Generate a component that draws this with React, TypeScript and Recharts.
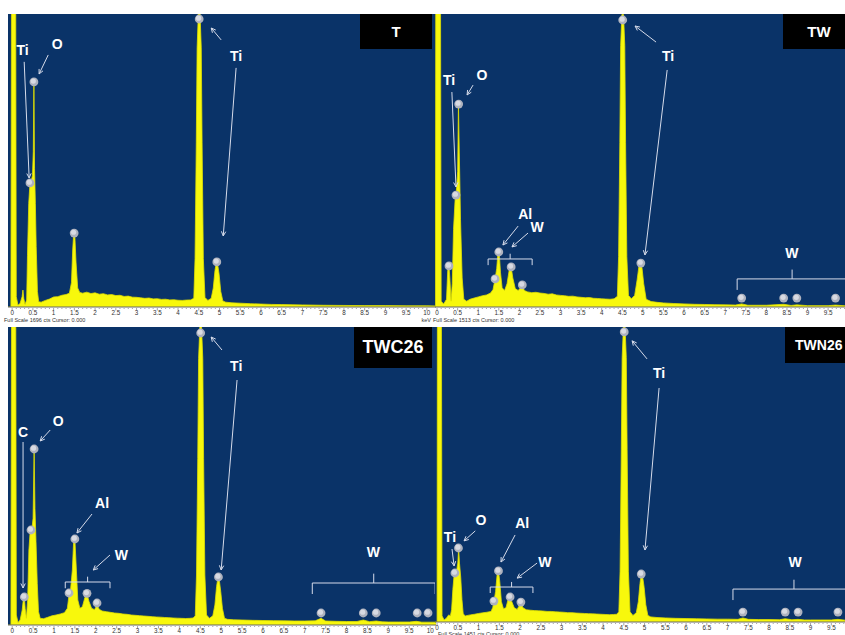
import React from 'react';
import { ComposedChart, Area, Scatter, XAxis, YAxis, CartesianGrid, ReferenceLine, ReferenceDot } from 'recharts';

type Pt = [number, number];
type Lbl = [number, number, string];
type Seg = [number, number, number, number];
type Brk = [number, number, number];

// EDS spectra, [energy keV, counts]
const tSpectrum: Pt[] = [
  [-0.1, 0], [-0.03, 0], [-0.01, 2500], [0.08, 2500], [0.1, 60], [0.14, 10], [0.19, 20], [0.24, 60], [0.26, 98], [0.28, 50],
  [0.31, 15], [0.35, 40], [0.37, 300], [0.4, 600], [0.43, 718], [0.46, 730], [0.49, 760], [0.51, 900], [0.525, 1303], [0.54, 800],
  [0.56, 600], [0.58, 350], [0.61, 90], [0.64, 30], [0.7, 28], [0.8, 38], [0.9, 46], [1.0, 58], [1.1, 60], [1.2, 68],
  [1.3, 72], [1.38, 80], [1.43, 140], [1.46, 330], [1.485, 428], [1.51, 420], [1.54, 260], [1.58, 110], [1.63, 84], [1.7, 80],
  [1.8, 86], [1.9, 78], [2.0, 82], [2.1, 74], [2.2, 77], [2.3, 70], [2.4, 72], [2.5, 66], [2.6, 68], [2.7, 61],
  [2.8, 63], [2.9, 57], [3.0, 56], [3.1, 53], [3.2, 50], [3.3, 52], [3.4, 47], [3.5, 48], [3.6, 44], [3.7, 45],
  [3.8, 41], [3.9, 42], [4.0, 39], [4.1, 38], [4.2, 40], [4.3, 41], [4.38, 50], [4.41, 280], [4.44, 950], [4.46, 1500],
  [4.49, 1700], [4.53, 1700], [4.56, 1500], [4.58, 950], [4.61, 280], [4.65, 55], [4.72, 38], [4.8, 50], [4.85, 110], [4.89, 210],
  [4.925, 262], [4.95, 255], [4.99, 190], [5.03, 90], [5.08, 35], [5.15, 28], [5.3, 24], [5.5, 22], [5.75, 19], [6.0, 17],
  [6.25, 15], [6.5, 14], [6.75, 13], [7.0, 12], [7.5, 10], [8.0, 9], [8.5, 8], [9.0, 8], [9.5, 7], [10.0, 7], [10.22, 6],
];

const twSpectrum: Pt[] = [
  [-0.05, 0], [-0.04, 0], [-0.03, 2000], [0.08, 2000], [0.1, 30], [0.16, 15], [0.23, 40], [0.26, 190], [0.29, 212], [0.31, 150],
  [0.34, 30], [0.37, 120], [0.4, 400], [0.44, 560], [0.47, 600], [0.5, 700], [0.52, 1048], [0.54, 800], [0.57, 450], [0.61, 150],
  [0.65, 40], [0.72, 30], [0.8, 40], [0.9, 46], [1.0, 52], [1.1, 58], [1.2, 62], [1.3, 72], [1.36, 90], [1.41, 145],
  [1.45, 200], [1.48, 284], [1.51, 284], [1.54, 180], [1.58, 100], [1.64, 85], [1.7, 120], [1.76, 200], [1.8, 207], [1.84, 150],
  [1.9, 95], [1.97, 85], [2.03, 100], [2.07, 112], [2.12, 85], [2.2, 78], [2.3, 74], [2.4, 76], [2.5, 72], [2.6, 70],
  [2.7, 66], [2.8, 68], [2.9, 62], [3.0, 60], [3.1, 58], [3.2, 55], [3.3, 56], [3.4, 52], [3.5, 50], [3.6, 48],
  [3.7, 49], [3.8, 45], [3.9, 44], [4.0, 42], [4.1, 41], [4.2, 40], [4.3, 42], [4.38, 55], [4.41, 260], [4.44, 850],
  [4.46, 1350], [4.49, 1510], [4.53, 1510], [4.56, 1350], [4.58, 850], [4.61, 260], [4.65, 60], [4.72, 42], [4.8, 60], [4.86, 140],
  [4.91, 220], [4.95, 227], [4.98, 200], [5.02, 120], [5.08, 40], [5.2, 28], [5.35, 24], [5.5, 21], [5.75, 18], [6.0, 16],
  [6.25, 14], [6.5, 13], [6.75, 12], [7.0, 11], [7.25, 10], [7.4, 16], [7.55, 9], [8.0, 9], [8.42, 14], [8.6, 8],
  [8.74, 11], [9.0, 7], [9.5, 7], [9.68, 10], [9.91, 6],
];

const twc26Spectrum: Pt[] = [
  [-0.1, 0], [-0.03, 0], [-0.01, 2600], [0.08, 2600], [0.1, 60], [0.14, 15], [0.19, 30], [0.24, 90], [0.27, 160], [0.29, 168],
  [0.31, 100], [0.34, 40], [0.37, 150], [0.4, 450], [0.43, 560], [0.47, 570], [0.5, 640], [0.525, 1056], [0.545, 700], [0.57, 500],
  [0.6, 250], [0.63, 80], [0.67, 40], [0.75, 38], [0.85, 46], [0.95, 55], [1.05, 60], [1.15, 66], [1.25, 74], [1.32, 100],
  [1.36, 180], [1.4, 220], [1.44, 330], [1.47, 500], [1.5, 516], [1.53, 360], [1.57, 150], [1.62, 100], [1.68, 110], [1.74, 165],
  [1.79, 185], [1.84, 140], [1.9, 100], [1.97, 92], [2.03, 120], [2.08, 95], [2.15, 84], [2.25, 80], [2.35, 76], [2.45, 72],
  [2.55, 70], [2.65, 66], [2.75, 64], [2.85, 60], [2.95, 58], [3.05, 56], [3.15, 54], [3.25, 52], [3.35, 50], [3.45, 48],
  [3.55, 47], [3.65, 45], [3.75, 44], [3.85, 42], [3.95, 41], [4.05, 40], [4.15, 39], [4.25, 40], [4.33, 42], [4.38, 55],
  [4.41, 300], [4.44, 1000], [4.46, 1600], [4.49, 1790], [4.53, 1790], [4.56, 1600], [4.58, 1000], [4.61, 300], [4.65, 60], [4.72, 40],
  [4.8, 55], [4.85, 120], [4.89, 230], [4.925, 288], [4.95, 280], [4.99, 200], [5.03, 100], [5.08, 40], [5.15, 34], [5.3, 31],
  [5.5, 30], [5.75, 28], [6.0, 27], [6.25, 26], [6.5, 25], [6.75, 24], [7.0, 24], [7.25, 25], [7.39, 40], [7.5, 24],
  [7.75, 22], [8.0, 21], [8.25, 21], [8.4, 30], [8.55, 20], [8.71, 24], [8.85, 19], [9.0, 18], [9.25, 18], [9.5, 18],
  [9.67, 22], [9.8, 17], [10.0, 17], [10.14, 17],
];

const twn26Spectrum: Pt[] = [
  [-0.05, 0], [0.0, 0], [0.01, 2000], [0.1, 2000], [0.12, 30], [0.17, 10], [0.23, 20], [0.28, 35], [0.32, 30], [0.35, 60],
  [0.38, 160], [0.41, 230], [0.44, 241], [0.47, 250], [0.5, 290], [0.52, 364], [0.54, 290], [0.57, 220], [0.6, 110], [0.63, 40],
  [0.68, 30], [0.8, 35], [0.9, 38], [1.0, 42], [1.1, 45], [1.2, 48], [1.3, 52], [1.34, 70], [1.37, 100], [1.41, 150],
  [1.45, 240], [1.48, 251], [1.51, 200], [1.55, 100], [1.6, 65], [1.66, 70], [1.71, 110], [1.76, 120], [1.8, 100], [1.86, 70],
  [1.93, 62], [1.98, 80], [2.02, 96], [2.07, 70], [2.15, 60], [2.25, 58], [2.35, 56], [2.45, 55], [2.55, 54], [2.65, 52],
  [2.75, 52], [2.85, 50], [2.95, 49], [3.05, 48], [3.15, 46], [3.25, 46], [3.35, 44], [3.45, 43], [3.55, 42], [3.65, 41],
  [3.75, 40], [3.85, 39], [3.95, 38], [4.05, 37], [4.15, 36], [4.25, 37], [4.33, 38], [4.38, 50], [4.41, 250], [4.44, 850],
  [4.46, 1300], [4.49, 1450], [4.53, 1450], [4.56, 1300], [4.58, 850], [4.61, 250], [4.65, 50], [4.72, 32], [4.8, 45], [4.85, 100],
  [4.89, 190], [4.92, 236], [4.95, 228], [4.99, 170], [5.03, 85], [5.08, 32], [5.15, 25], [5.3, 22], [5.5, 20], [5.75, 18],
  [6.0, 17], [6.25, 16], [6.5, 15], [6.75, 14], [7.0, 14], [7.25, 13], [7.37, 20], [7.5, 13], [7.75, 12], [8.0, 12],
  [8.25, 11], [8.39, 16], [8.55, 11], [8.7, 13], [8.85, 10], [9.0, 10], [9.25, 10], [9.5, 10], [9.66, 13], [9.83, 9],
];

// identified peak markers
const tPeaks: Pt[] = [[0.43, 718], [0.525, 1303], [1.495, 428], [4.51, 1667], [4.935, 261]];
const twPeaks: Pt[] = [
  [0.29, 212], [0.46, 578], [0.525, 1048], [1.41, 145], [1.5, 284], [1.8, 207], [2.07, 114],
  [4.51, 1482], [4.95, 227], [7.4, 46], [8.42, 46], [8.74, 46], [9.68, 46],
];
const twc26Peaks: Pt[] = [
  [0.29, 168], [0.45, 570], [0.525, 1056], [1.36, 192], [1.5, 516], [1.79, 190], [2.03, 132],
  [4.51, 1752], [4.935, 288], [7.39, 72], [8.4, 72], [8.71, 72], [9.69, 72], [9.95, 72],
];
const twn26Peaks: Pt[] = [
  [0.43, 241], [0.515, 364], [1.37, 103], [1.48, 251], [1.76, 123], [2.02, 98],
  [4.51, 1427], [4.92, 236], [7.37, 49], [8.39, 49], [8.7, 49], [9.66, 49],
];

// element labels [keV, cts, text]
const tLabels: Lbl[] = [[0.25, 1488, 'Ti'], [1.085, 1520, 'O'], [5.4, 1453, 'Ti']];
const twLabels: Lbl[] = [[0.29, 1172, 'Ti'], [1.09, 1198, 'O'], [2.14, 480, 'Al'], [2.43, 413, 'W'], [5.61, 1296, 'Ti'], [8.62, 279, 'W']];
const twc26Labels: Lbl[] = [[0.26, 1158, 'C'], [1.1, 1224, 'O'], [2.15, 732, 'Al'], [2.61, 420, 'W'], [5.36, 1554, 'Ti'], [8.64, 438, 'W']];
const twn26Labels: Lbl[] = [[0.31, 418, 'Ti'], [1.06, 502, 'O'], [2.05, 487, 'Al'], [2.6, 295, 'W'], [5.35, 1225, 'Ti'], [8.63, 295, 'W']];

// arrows [keV from, cts from, keV to, cts to]
const tArrows: Seg[] = [[0.29, 1419, 0.41, 747], [0.87, 1459, 0.65, 1349], [5.04, 1546, 4.8, 1615], [5.4, 1384, 5.09, 411]];
const twArrows: Seg[] = [
  [0.36, 1110, 0.46, 620], [0.875, 1146, 0.73, 1095], [1.97, 418, 1.6, 320],
  [2.21, 382, 1.82, 310], [5.32, 1368, 4.81, 1451], [5.59, 1224, 5.05, 269],
];
const twc26Arrows: Seg[] = [
  [0.26, 1098, 0.26, 222], [0.91, 1170, 0.67, 1104], [1.91, 666, 1.55, 552],
  [2.34, 420, 1.94, 330], [5.02, 1650, 4.76, 1728], [5.38, 1470, 5.0, 330],
];
const twn26Arrows: Seg[] = [
  [0.36, 359, 0.41, 276], [0.92, 448, 0.65, 399], [1.88, 428, 1.54, 295],
  [2.41, 290, 1.93, 216], [5.06, 1294, 4.7, 1383], [5.35, 1151, 5.01, 354],
];

// W line groups [keV from, keV to, cts]
const twBrackets: Brk[] = [[1.24, 2.31, 248], [7.29, 9.96, 145]];
const twc26Brackets: Brk[] = [[1.27, 2.34, 258], [7.18, 10.12, 252]];
const twn26Brackets: Brk[] = [[1.28, 2.31, 172], [7.13, 10.07, 162]];

const energyTicks = Array.from({ length: 101 }, (_, i) => i / 10);

const BLUE = '#0a3368';
const YELLOW = '#f8f80c';
const WHITE_LINE = '#d6dbea';
const FONT = '"Liberation Sans", Arial, sans-serif';

const EnergyTick = (props: any) => {
  const { x, y, payload } = props;
  const v = payload.value;
  const major = Math.abs(v * 2 - Math.round(v * 2)) < 1e-6;
  return (
    <g>
      <line x1={x} x2={x} y1={y + 1} y2={y + (major ? 3.5 : 2)} stroke="#666" strokeWidth={0.6} />
      {major && (
        <text x={x} y={y + 7.8} textAnchor="middle" fontSize={6.3} fill="#333" fontFamily={FONT}>
          {String(Math.round(v * 2) / 2)}
        </text>
      )}
    </g>
  );
};

const PeakDot = (props: any) => {
  const { cx, cy } = props;
  return (
    <g>
      <circle cx={cx} cy={cy} r={4.4} fill="#aeb2be" />
      <circle cx={cx - 0.6} cy={cy - 0.8} r={2.6} fill="#d8dae2" />
    </g>
  );
};

const ArrowShape = (props: any) => {
  const { x1, y1, x2, y2 } = props;
  const a = Math.atan2(y2 - y1, x2 - x1);
  const h = 5;
  const w = 0.45;
  const ax = x2 - h * Math.cos(a - w);
  const ay = y2 - h * Math.sin(a - w);
  const bx = x2 - h * Math.cos(a + w);
  const by = y2 - h * Math.sin(a + w);
  return (
    <g stroke={WHITE_LINE} strokeWidth={1} fill="none">
      <line x1={x1} y1={y1} x2={x2} y2={y2} />
      <polyline points={`${ax},${ay} ${x2},${y2} ${bx},${by}`} />
    </g>
  );
};

const BracketShape = (props: any) => {
  const { x1, y1, x2 } = props;
  const h = Math.min(11, Math.abs(x2 - x1) * 0.14);
  const xm = (x1 + x2) / 2;
  return (
    <path
      d={`M${x1},${y1 + h} L${x1},${y1} L${x2},${y1} L${x2},${y1 + h} M${xm},${y1} L${xm},${y1 - h * 0.85}`}
      stroke={WHITE_LINE}
      strokeWidth={1}
      fill="none"
    />
  );
};

const labelShape = (text: string) => (p: any) => (
  <text x={p.cx} y={p.cy} textAnchor="middle" dominantBaseline="central" fill="#fff" fontSize={14} fontWeight="bold" fontFamily={FONT}>
    {text}
  </text>
);

interface PanelProps {
  name: string;
  spectrum: Pt[];
  peaks: Pt[];
  labels: Lbl[];
  arrows: Seg[];
  brackets: Brk[];
  fullScale: number;
  domain: [number, number];
  left: number;
  top: number;
  width: number;
  plotH: number;
  box: { left: number; width: number; height: number; fontSize: number; padLeft?: number };
  footTop: number | null;
  footLeft: number;
  kev: boolean;
}

const EdsPanel: React.FC<PanelProps> = (p) => {
  const data = p.spectrum.map(([e, c]) => ({ e, c }));
  const dots = p.peaks.map(([e, c]) => ({ e, c }));
  const ticks = energyTicks.filter((t) => t >= p.domain[0] && t <= p.domain[1]);
  const axisH = 22;
  return (
    <div style={{ position: 'absolute', left: p.left, top: p.top, width: p.width, height: p.plotH + axisH }}>
      <ComposedChart width={p.width} height={p.plotH + axisH} data={data} margin={{ top: 0, right: 0, bottom: 0, left: 0 }}>
        <CartesianGrid fill={BLUE} stroke="none" horizontal={false} vertical={false} />
        <XAxis
          type="number"
          dataKey="e"
          domain={p.domain}
          allowDataOverflow
          ticks={ticks}
          interval={0}
          tickLine={false}
          tickSize={0}
          tickMargin={0}
          axisLine={{ stroke: '#666', strokeWidth: 1.2 }}
          tick={<EnergyTick />}
          height={axisH}
        />
        <YAxis hide type="number" domain={[0, p.fullScale]} allowDataOverflow />
        <Area
          type="linear"
          dataKey="c"
          fill={YELLOW}
          fillOpacity={1}
          stroke="#e0e000"
          strokeWidth={0.8}
          dot={false}
          activeDot={false}
          isAnimationActive={false}
        />
        <Scatter data={dots} dataKey="c" shape={<PeakDot />} isAnimationActive={false} />
        {p.brackets.map(([e1, e2, c], i) => (
          <ReferenceLine key={`b${i}`} segment={[{ x: e1, y: c }, { x: e2, y: c }]} ifOverflow="visible" shape={BracketShape} />
        ))}
        {p.arrows.map(([e1, c1, e2, c2], i) => (
          <ReferenceLine key={`a${i}`} segment={[{ x: e1, y: c1 }, { x: e2, y: c2 }]} ifOverflow="visible" shape={ArrowShape} />
        ))}
        {p.labels.map(([e, c, t], i) => (
          <ReferenceDot key={`l${i}`} x={e} y={c} r={0} ifOverflow="visible" shape={labelShape(t)} />
        ))}
      </ComposedChart>
      <div
        style={{
          position: 'absolute',
          left: p.box.left,
          top: 0,
          width: p.box.width,
          height: p.box.height,
          boxSizing: 'border-box',
          paddingLeft: p.box.padLeft ?? 0,
          background: '#000',
          color: '#fff',
          fontFamily: FONT,
          fontWeight: 'bold',
          fontSize: p.box.fontSize,
          display: 'flex',
          alignItems: 'center',
          justifyContent: p.box.padLeft ? 'flex-start' : 'center',
          whiteSpace: 'nowrap',
          overflow: 'hidden',
        }}
      >
        {p.name}
      </div>
      {p.footTop !== null && (
        <div style={{ position: 'absolute', left: p.footLeft, top: p.footTop, fontFamily: FONT, fontSize: 5.5, color: '#333', whiteSpace: 'nowrap', lineHeight: '6px' }}>
          {`Full Scale ${p.fullScale} cts Cursor: 0.000`}
        </div>
      )}
      {p.kev && p.footTop !== null && (
        <div style={{ position: 'absolute', right: 5, top: p.footTop, fontFamily: FONT, fontSize: 5.5, color: '#333', lineHeight: '6px' }}>
          keV
        </div>
      )}
    </div>
  );
};

const panels: PanelProps[] = [
  {
    name: 'T', spectrum: tSpectrum, peaks: tPeaks, labels: tLabels, arrows: tArrows, brackets: [],
    fullScale: 1696, domain: [-0.1, 10.22], left: 8, top: 14, width: 428, plotH: 293,
    box: { left: 352, width: 72, height: 35, fontSize: 15 }, footTop: 303, footLeft: -4, kev: true,
  },
  {
    name: 'TW', spectrum: twSpectrum, peaks: twPeaks, labels: twLabels, arrows: twArrows, brackets: twBrackets,
    fullScale: 1513, domain: [-0.05, 9.91], left: 435, top: 14, width: 410, plotH: 293,
    box: { left: 348, width: 72, height: 35, fontSize: 15 }, footTop: 303, footLeft: -2, kev: false,
  },
  {
    name: 'TWC26', spectrum: twc26Spectrum, peaks: twc26Peaks, labels: twc26Labels, arrows: twc26Arrows, brackets: twc26Brackets,
    fullScale: 1788, domain: [-0.1, 10.14], left: 8, top: 327, width: 428, plotH: 298,
    box: { left: 346, width: 78, height: 41, fontSize: 18 }, footTop: null, footLeft: -4, kev: false,
  },
  {
    name: 'TWN26', spectrum: twn26Spectrum, peaks: twn26Peaks, labels: twn26Labels, arrows: twn26Arrows, brackets: twn26Brackets,
    fullScale: 1451, domain: [-0.05, 9.83], left: 435, top: 327, width: 410, plotH: 295,
    box: { left: 350, width: 60, height: 36, fontSize: 14, padLeft: 10 }, footTop: 304, footLeft: 3, kev: false,
  },
];

export default function App() {
  return (
    <div style={{ position: 'absolute', left: 0, top: 0, width: 845, height: 635, overflow: 'hidden', background: '#fff' }}>
      {panels.map((p) => (
        <EdsPanel key={p.name} {...p} />
      ))}
    </div>
  );
}
